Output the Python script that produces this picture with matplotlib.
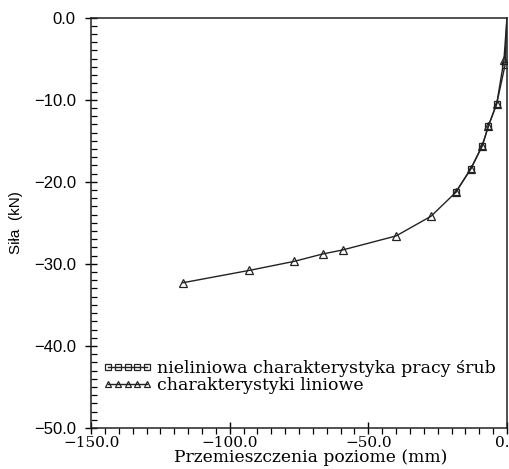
import matplotlib
matplotlib.use("Agg")
import matplotlib.pyplot as plt
from matplotlib.ticker import MultipleLocator, FuncFormatter

# Data (displacement mm, force kN)
x_linear = [-116.9, -93.0, -76.8, -66.5, -59.2, -40.0, -27.4, -18.5, -13.0, -8.9, -6.7, -3.7, -1.1, 0.0]
y_linear = [-32.3, -30.8, -29.7, -28.8, -28.3, -26.6, -24.2, -21.3, -18.4, -15.6, -13.2, -10.5, -5.2, 0.0]

x_nonlin = [-18.5, -13.0, -8.9, -6.7, -3.7, -0.7, 0.0]
y_nonlin = [-21.3, -18.4, -15.6, -13.2, -10.5, -5.8, 0.0]

label_nonlin = "nieliniowa charakterystyka pracy śrub"
label_linear = "charakterystyki liniowe"
xlabel = "Przemieszczenia poziome (mm)"
ylabel = "Siła  (kN)"

serif = ["DejaVu Serif"]
sans = ["Liberation Sans", "DejaVu Sans"]


def fmt(v, pos):
    return f"{v:.1f}".replace("-", "\u2212")


fig = plt.figure(figsize=(5.09, 4.69), dpi=100)
ax = fig.add_axes([0.179, 0.0874, 0.817, 0.875])

ln_nl, = ax.plot(x_nonlin, y_nonlin, color="#222222", lw=1.0, marker="s", ms=5,
                 mfc="none", mec="#222222", mew=0.9, label=label_nonlin, zorder=3,
                 markevery=list(range(len(x_nonlin) - 1)))
ln_l, = ax.plot(x_linear, y_linear, color="#222222", lw=1.0, marker="^", ms=5.5,
                mfc="none", mec="#222222", mew=0.9, label=label_linear, zorder=3,
                markevery=list(range(len(x_linear) - 1)))

ax.set_xlim(-150, 0)
ax.set_ylim(-50, 0)
ax.xaxis.set_major_locator(MultipleLocator(50))
ax.xaxis.set_minor_locator(MultipleLocator(5))
ax.yaxis.set_major_locator(MultipleLocator(10))
ax.yaxis.set_minor_locator(MultipleLocator(1))
ax.xaxis.set_major_formatter(FuncFormatter(fmt))
ax.yaxis.set_major_formatter(FuncFormatter(fmt))

ax.tick_params(axis="x", which="major", direction="inout", length=8, width=1, pad=2)
ax.tick_params(axis="x", which="minor", direction="out", length=4, width=0.9)
ax.tick_params(axis="y", which="major", direction="inout", length=8, width=1, pad=7)
ax.tick_params(axis="y", which="minor", direction="in", length=4, width=0.9)

for lab in ax.get_xticklabels():
    lab.set_family(serif)
    lab.set_fontsize(11)
for lab in ax.get_yticklabels():
    lab.set_family(sans)
    lab.set_fontsize(12)

for sp in ax.spines.values():
    sp.set_linewidth(1.1)
    sp.set_color("#222222")

ax.set_xlabel(xlabel, family=serif, fontsize=12.3, labelpad=-1)
ax.xaxis.label.set_x(0.529)
ax.set_ylabel(ylabel, family=sans, fontsize=11, labelpad=8)

leg = ax.legend(handles=[ln_nl, ln_l], loc="lower left", bbox_to_anchor=(0.0, 0.053),
                frameon=False, numpoints=5, handlelength=2.8, handletextpad=0.3,
                labelspacing=0.02, borderaxespad=0.3, prop={"family": serif, "size": 12.5})
for h in leg.legend_handles:
    h.set_markersize(4)
    h.set_markevery(None)

fig.savefig("out.png", dpi=100)
